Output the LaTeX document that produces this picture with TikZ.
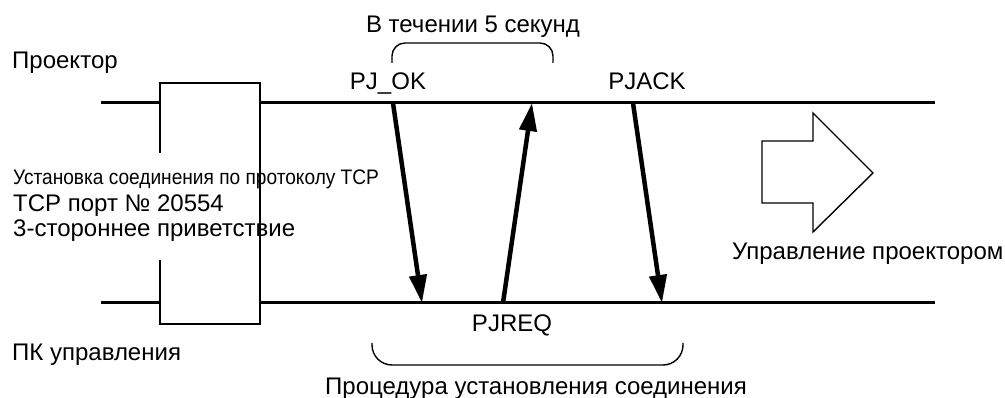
\documentclass[tikz,border=0pt]{standalone}
\usepackage{fontspec}
\setmainfont{Liberation Sans}
\newfontfamily\narrowsans[FakeStretch=0.91]{Liberation Sans}
\usetikzlibrary{arrows.meta, positioning}

\begin{document}
\begin{tikzpicture}[
  x=1pt, y=-1pt,
  lbl/.style={font=\fontsize{24}{28}\selectfont, inner sep=0pt},
  tline/.style={line width=3pt},
  msg/.style={line width=4.5pt, -{Triangle[length=28pt,width=17pt]}},
  frame/.style={line width=1.4pt},
  brace/.style={line width=1.4pt, rounded corners=13pt}
]
  \useasboundingbox (0,0) rectangle (1005,398);

  % Time lines
  \coordinate (pA) at (101,103);  \coordinate (pB) at (160,103);
  \coordinate (pC) at (260,103);  \coordinate (pD) at (935,103);
  \coordinate (cA) at (101,303);  \coordinate (cB) at (160,303);
  \coordinate (cC) at (260,303);  \coordinate (cD) at (935,303);
  \draw[tline] (pA) -- (pB);  \draw[tline] (pC) -- (pD);
  \draw[tline] (cA) -- (cB);  \draw[tline] (cC) -- (cD);

  % TCP connection box (left side open behind the text)
  \draw[frame] (160,153) -- (160,83) -- (260,83) -- (260,324)
    -- (160,324) -- (160,260);

  \node[lbl, anchor=base west] (proj) at (12,69) {Проектор};
  \node[lbl, anchor=base west] (pc)   at (12,360) {ПК управления};
  \node[lbl, anchor=base west, font=\narrowsans\fontsize{21}{25}\selectfont]
    (tcp1) at (13,185) {Установка соединения по протоколу TCP};
  \node[lbl, anchor=base west] (tcp2) at (13,212) {TCP порт № 20554};
  \node[lbl, anchor=base west] (tcp3) at (13,237) {3-стороннее приветствие};

  % Messages
  \coordinate (okP)  at (393,103);  \coordinate (okC)  at (422,303);
  \coordinate (reqC) at (503,303);  \coordinate (reqP) at (532,103);
  \coordinate (ackP) at (633,103);  \coordinate (ackC) at (662,303);
  \draw[msg] (okP) -- (okC);
  \draw[msg] (reqC) -- (reqP);
  \draw[msg] (ackP) -- (ackC);

  \node[lbl, anchor=base] (ok)  at (388,90)  {PJ\_OK};
  \node[lbl, anchor=base] (ack) at (647,90)  {PJACK};
  \node[lbl, anchor=base] (req) at (512,332) {PJREQ};

  % Braces
  \draw[brace] (392,63) -- (392,43) -- (553,43) -- (553,63);
  \node[lbl, anchor=base] (five) at (473,33) {В течении 5 секунд};
  \draw[brace, rounded corners=20pt] (372,343) -- (372,365) -- (683,365) -- (683,343);
  \node[lbl, anchor=base west] (proc) at (325,395) {Процедура установления соединения};

  % Control arrow
  \draw[frame, fill=white] (762,141) -- (813,141) -- (813,113) -- (873,173)
    -- (813,232) -- (813,203) -- (762,203) -- cycle;
  \node[lbl, anchor=base west] (ctrl) at (732,260) {Управление проектором};
\end{tikzpicture}
\end{document}
